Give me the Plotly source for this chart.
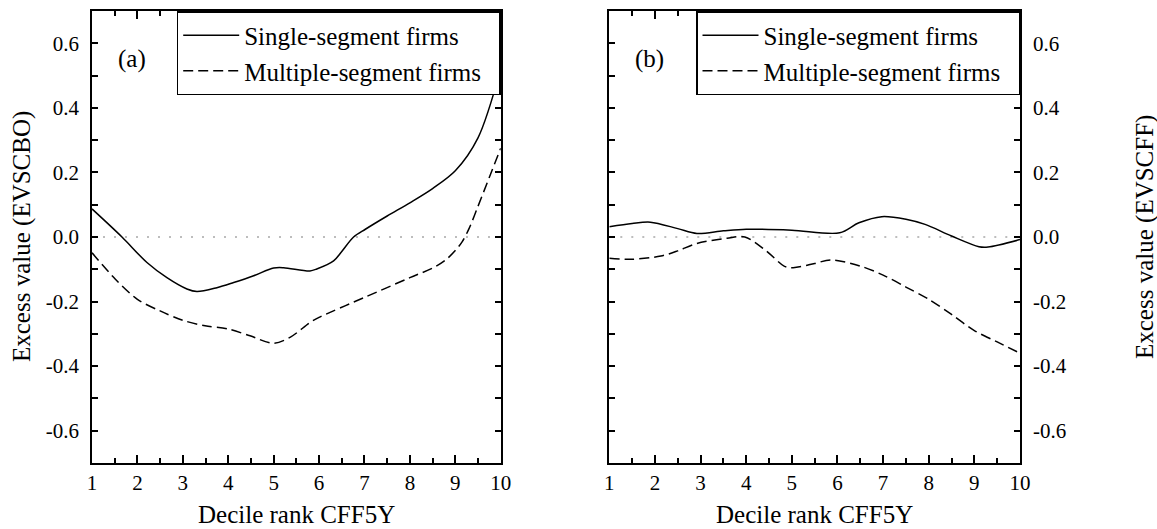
import plotly.graph_objects as go

# ---------------- data ----------------
x_a_single = [1, 1.66, 2.21, 2.65, 3.09, 3.31, 3.75, 4.12, 4.56, 5.0, 5.22, 5.8, 5.95, 6.32, 6.5, 6.76, 7.02, 7.5, 8, 8.5, 9, 9.5, 10]
y_a_single = [0.087, 0.0, -0.079, -0.126, -0.161, -0.169, -0.157, -0.141, -0.12, -0.096, -0.095, -0.105, -0.099, -0.074, -0.045, 0.0, 0.024, 0.065, 0.106, 0.15, 0.205, 0.307, 0.52]

x_a_multi = [1, 1.51, 2.0, 2.5, 3.0, 3.49, 4.0, 4.48, 5.0, 5.37, 5.8, 6.0, 7.02, 8.0, 8.52, 8.78, 9.0, 9.15, 9.3, 9.5, 9.75, 10]
y_a_multi = [-0.049, -0.13, -0.193, -0.229, -0.258, -0.275, -0.285, -0.306, -0.329, -0.31, -0.265, -0.249, -0.186, -0.126, -0.095, -0.072, -0.042, -0.015, 0.025, 0.095, 0.185, 0.275]

x_b_single = [1, 1.5, 1.9, 2.5, 2.92, 3.5, 4.0, 5.0, 6.05, 6.47, 6.97, 7.5, 7.92, 8.5, 9.1, 9.3, 10]
y_b_single = [0.032, 0.042, 0.046, 0.026, 0.011, 0.019, 0.024, 0.021, 0.013, 0.044, 0.063, 0.055, 0.039, 0.003, -0.03, -0.031, -0.008]

x_b_multi = [1, 1.48, 2.13, 2.5, 2.92, 3.58, 3.97, 4.44, 4.83, 5.03, 5.5, 5.85, 6.5, 7.0, 7.5, 8.0, 8.5, 9.0, 9.5, 10]
y_b_multi = [-0.066, -0.069, -0.059, -0.043, -0.02, -0.004, 0.0, -0.043, -0.09, -0.095, -0.082, -0.071, -0.09, -0.118, -0.155, -0.193, -0.24, -0.29, -0.325, -0.36]

zero_x = [1, 10]
zero_y = [0, 0]

x_tick_vals = [1, 2, 3, 4, 5, 6, 7, 8, 9, 10]
x_tick_text = ["1", "2", "3", "4", "5", "6", "7", "8", "9", "10"]
y_tick_vals = [-0.6, -0.4, -0.2, 0.0, 0.2, 0.4, 0.6]
y_tick_text = ["-0.6", "-0.4", "-0.2", "0.0", "0.2", "0.4", "0.6"]

series_names = ["Single-segment firms", "Multiple-segment firms"]
panel_labels = ["(a)", "(b)"]
x_title = "Decile rank CFF5Y"
y_titles = ["Excess value (EVSCBO)", "Excess value (EVSCFF)"]

# ---------------- figure ----------------
FONT = "Liberation Serif, DejaVu Serif, Times New Roman, serif"
W, H = 1157, 529
ML, MR, MT, MB = 92, 137, 9, 66
PW = W - ML - MR
PH = H - MT - MB
d1 = [0, (500.7 - ML) / PW]
d2 = [(609.3 - ML) / PW, 1]

# legend entry names (right padding so the text sits off the box edge)
PAD = "\u00a0\u00a0"
legend_names = [series_names[0], series_names[1] + PAD]

fig = go.Figure()

zero_style = dict(color="#a8a8a8", width=1.6, dash="2px,9px")
solid = dict(color="black", width=1.5, shape="spline", smoothing=0.9)
dashed = dict(color="black", width=1.5, dash="10px,5px", shape="spline", smoothing=0.9)

fig.add_trace(go.Scatter(x=zero_x, y=zero_y, mode="lines", line=zero_style,
                         showlegend=False, hoverinfo="skip", xaxis="x", yaxis="y"))
fig.add_trace(go.Scatter(x=zero_x, y=zero_y, mode="lines", line=zero_style,
                         showlegend=False, hoverinfo="skip", xaxis="x2", yaxis="y2"))

fig.add_trace(go.Scatter(x=x_a_single, y=y_a_single, mode="lines", line=solid,
                         name=legend_names[0], legend="legend", xaxis="x", yaxis="y"))
fig.add_trace(go.Scatter(x=x_a_multi, y=y_a_multi, mode="lines", line=dashed,
                         name=legend_names[1], legend="legend", xaxis="x", yaxis="y"))
fig.add_trace(go.Scatter(x=x_b_single, y=y_b_single, mode="lines", line=solid,
                         name=legend_names[0], legend="legend2", xaxis="x2", yaxis="y2"))
fig.add_trace(go.Scatter(x=x_b_multi, y=y_b_multi, mode="lines", line=dashed,
                         name=legend_names[1], legend="legend2", xaxis="x2", yaxis="y2"))

xcommon = dict(range=[1, 10], tickmode="array", tickvals=x_tick_vals, ticktext=x_tick_text,
               ticks="inside", ticklen=8, tickwidth=1.5, tickcolor="black",
               minor=dict(tick0=0, dtick=0.5, ticks="inside", ticklen=5, tickwidth=1.5, tickcolor="black"),
               showline=True, linewidth=1.5, linecolor="black", mirror="allticks",
               showgrid=False, zeroline=False, ticklabelstandoff=0,
               tickfont=dict(family=FONT, size=21, color="black"))
ycommon = dict(range=[-0.7, 0.7], tickmode="array", tickvals=y_tick_vals, ticktext=y_tick_text,
               ticks="inside", ticklen=6, tickwidth=1.5, tickcolor="black",
               minor=dict(tick0=0, dtick=0.1, ticks="inside", ticklen=6, tickwidth=1.5, tickcolor="black"),
               showline=True, linewidth=1.5, linecolor="black", mirror="allticks",
               showgrid=False, zeroline=False, ticklabelstandoff=7,
               tickfont=dict(family=FONT, size=21, color="black"))

legend_common = dict(bgcolor="white", bordercolor="black", borderwidth=1.5,
                     font=dict(family=FONT, size=25, color="black"),
                     xanchor="right", yanchor="top", y=1, itemwidth=56,
                     tracegroupgap=0)

fig.update_layout(
    width=W, height=H,
    margin=dict(l=ML, r=MR, t=MT, b=MB, pad=0),
    paper_bgcolor="white", plot_bgcolor="white",
    font=dict(family=FONT, color="black"),
    xaxis=dict(domain=d1, anchor="y", **xcommon),
    yaxis=dict(domain=[0, 1], anchor="x", side="left", **ycommon),
    xaxis2=dict(domain=d2, anchor="y2", **xcommon),
    yaxis2=dict(domain=[0, 1], anchor="x2", side="right", **ycommon),
    legend=dict(x=d1[1], **legend_common),
    legend2=dict(x=d2[1], **legend_common),
    showlegend=True,
)

def px_x(p):
    return (p - ML) / PW

def px_y(p):
    return (H - MB - p) / PH

TF = dict(family=FONT, size=25, color="black")
ann = []
ann.append(dict(text=y_titles[0], x=px_x(22), y=0.5, xref="paper", yref="paper",
                textangle=-90, showarrow=False, xanchor="center", yanchor="middle", font=TF))
ann.append(dict(text=y_titles[1], x=px_x(1145), y=0.5, xref="paper", yref="paper",
                textangle=-90, showarrow=False, xanchor="center", yanchor="middle", font=TF))
for xr in ["x domain", "x2 domain"]:
    ann.append(dict(text=x_title, x=0.5, y=px_y(515), xref=xr, yref="paper",
                    showarrow=False, xanchor="center", yanchor="middle", font=TF))
for lab, xr, yr in [(panel_labels[0], "x domain", "y domain"), (panel_labels[1], "x2 domain", "y2 domain")]:
    ann.append(dict(text=lab, x=0.099, y=px_y(57.5), xref=xr, yref=yr,
                    showarrow=False, xanchor="center", yanchor="middle", font=TF))
fig.update_layout(annotations=ann)

fig.write_html("out.html")
